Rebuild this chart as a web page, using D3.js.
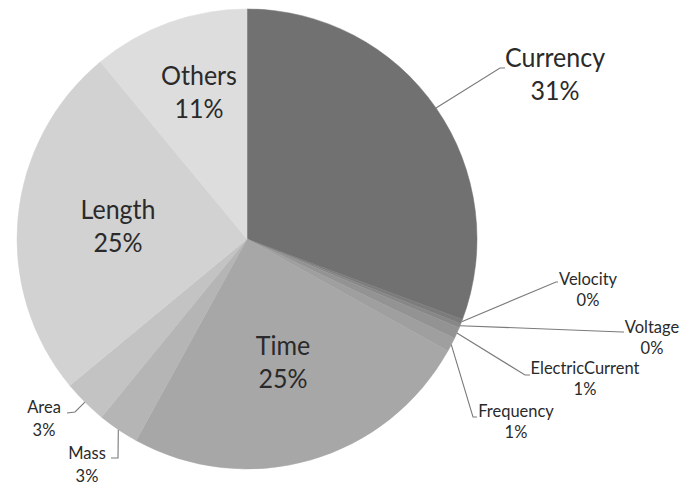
<!DOCTYPE html>
<html>
<head>
<meta charset="utf-8">
<script src="https://cdn.jsdelivr.net/npm/d3@7"></script>
<style>
  html, body { margin: 0; padding: 0; background: #ffffff; }
  svg { display: block; }
  text { font-family: Lato, "Open Sans", sans-serif; fill: #2a2a2a; }
</style>
</head>
<body>
<svg id="chart" width="695" height="485"></svg>
<script>
// Share of unit types, clockwise from 12 o'clock
const categories = ["Currency", "Velocity", "Voltage", "ElectricCurrent", "Frequency",
                    "Time", "Mass", "Area", "Length", "Others"];
const shares = [30.7, 0.3, 0.3, 0.8, 1.0, 24.9, 2.9, 3.1, 25.0, 11.0];
const fills = ["#717171", "#7c7c7c", "#878787", "#939393", "#9f9f9f",
               "#a7a7a7", "#b5b5b5", "#c3c3c3", "#d2d2d2", "#dddddd"];

// Label placement: inside labels give a centre; outside labels give the
// elbow and end of the leader line plus the text anchor.
const insideLabels = {
  Others: [199, 92],
  Length: [118, 226],
  Time:   [283, 362]
};
const outsideLabels = {
  Currency:        { elbow: [500, 68],  end: [505, 68],  text: [555, 67],  size: 25, line: 33 },
  Velocity:        { elbow: [556, 282], end: [558, 282], text: [588, 285], size: 16.5, line: 21 },
  Voltage:         { elbow: [622, 332], end: [624, 332], text: [652, 333], size: 16.5, line: 21 },
  ElectricCurrent: { elbow: [525, 375], end: [530, 375], text: [585, 374], size: 16.5, line: 21 },
  Frequency:       { elbow: [473, 417], end: [477, 417], text: [516, 417], size: 16.5, line: 21 },
  Area:            { elbow: [75, 412],  end: [67, 413],  text: [44, 413],  size: 16.5, line: 23 },
  Mass:            { elbow: [118, 458], end: [111, 458], text: [87, 459],  size: 16.5, line: 23 }
};

const cx = 247, cy = 239, radius = 230;
const stretch = 1.1; // glyphs drawn slightly taller than wide

const svg = d3.select("#chart");
const g = svg.append("g").attr("transform", `translate(${cx},${cy})`);

const data = categories.map((c, i) => ({ name: c, value: shares[i], fill: fills[i] }));

const pie = d3.pie().sort(null).value(d => d.value).startAngle(0).endAngle(2 * Math.PI);
const arcs = pie(data);

const arc = d3.arc().innerRadius(0).outerRadius(radius);
const rim = d3.arc().innerRadius(radius).outerRadius(radius);

g.selectAll("path.slice")
  .data(arcs)
  .join("path")
  .attr("class", "slice")
  .attr("d", arc)
  .attr("fill", d => d.data.fill)
  .attr("stroke", d => d.data.fill)
  .attr("stroke-width", 0.5);

const pct = v => `${Math.round(v)}%`;

// Two-line label (name over percentage) anchored at its first baseline
function label(x, y, size, line, name, value) {
  const t = svg.append("text")
    .attr("transform", `translate(${x},${y}) scale(1,${stretch})`)
    .attr("text-anchor", "middle")
    .attr("font-size", size);
  t.append("tspan").attr("x", 0).attr("y", 0).text(name);
  t.append("tspan").attr("x", 0).attr("y", line / stretch).text(value);
}

// Leader lines from slice rim to label
arcs.filter(d => outsideLabels[d.data.name]).forEach(d => {
  const L = outsideLabels[d.data.name];
  const [sx, sy] = rim.centroid(d);
  svg.append("polyline")
    .attr("points", [[sx + cx, sy + cy], L.elbow, L.end].map(p => p.join(",")).join(" "))
    .attr("fill", "none")
    .attr("stroke", "#7a7a7a")
    .attr("stroke-width", 1.1);
  label(L.text[0], L.text[1], L.size, L.line, d.data.name, pct(d.data.value));
});

// Labels sitting inside the larger slices
arcs.filter(d => insideLabels[d.data.name]).forEach(d => {
  const [x, y] = insideLabels[d.data.name];
  label(x, y - 7, 25, 33, d.data.name, pct(d.data.value));
});
</script>
</body>
</html>
